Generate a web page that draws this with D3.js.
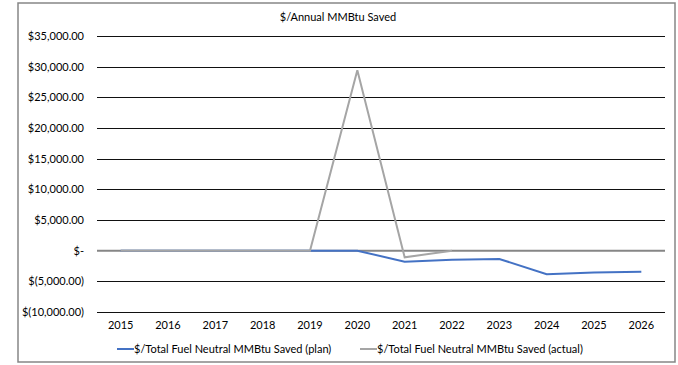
<!DOCTYPE html>
<html><head><meta charset="utf-8">
<script src="https://cdn.jsdelivr.net/npm/d3@7"></script>
<style>body{margin:0;background:#fff}svg{display:block}text{font-family:Lato,"Open Sans",sans-serif;fill:#000}</style>
</head><body><svg id="c" width="678" height="365"></svg>
<script>
const years = ["2015","2016","2017","2018","2019","2020","2021","2022","2023","2024","2025","2026"];
const planValues = [0,0,0,0,0,0,-1800,-1500,-1350,-3850,-3580,-3420];
const actualValues = [0,0,0,0,0,29400,-1080,0,null,null,null,null];
const yTicks = [35000,30000,25000,20000,15000,10000,5000,0,-5000,-10000];
const seriesNames = ["$/Total Fuel Neutral MMBtu Saved (plan)","$/Total Fuel Neutral MMBtu Saved (actual)"];
const title = "$/Annual MMBtu Saved";
const fs = 11;

const svg = d3.select("#c");
svg.append("rect").attr("x",18).attr("y",3).attr("width",657).attr("height",359)
  .attr("fill","#fff").attr("stroke","#868686").attr("stroke-width",1.5);

const x = d3.scaleBand().domain(years).range([97,665]);
const y = d3.scaleLinear().domain([-10000,35000]).range([312,36]);

svg.append("text").attr("x",338).attr("y",21).attr("text-anchor","middle").attr("font-size",fs).text(title);

svg.append("g").selectAll("line").data(yTicks.filter(d=>d!==0)).join("line")
  .attr("x1",97).attr("x2",665).attr("y1",d=>Math.round(y(d))+0.5).attr("y2",d=>Math.round(y(d))+0.5)
  .attr("stroke","#111").attr("stroke-width",1);

const fmt = d => d===0 ? "$-" : (d<0 ? "$(" + d3.format(",.2f")(-d) + ")" : "$" + d3.format(",.2f")(d));
const yAxis = d3.axisLeft(y).tickValues(yTicks).tickFormat(fmt).tickSize(0).tickPadding(0);
const ga = svg.append("g").attr("transform","translate(84,0)").call(yAxis);
ga.select(".domain").remove();
ga.selectAll("text").attr("font-size",fs).attr("font-family","Lato,sans-serif");

// zero axis line
svg.append("line").attr("x1",97).attr("x2",665).attr("y1",y(0)).attr("y2",y(0))
  .attr("stroke","#868686").attr("stroke-width",2);

const xAxis = d3.axisBottom(x).tickSize(0).tickPadding(0);
const gx = svg.append("g").attr("transform","translate(0,321)").call(xAxis);
gx.select(".domain").remove();
gx.selectAll("text").attr("font-size",fs).attr("font-family","Lato,sans-serif");

const line = d3.line().defined(d=>d.v!==null).x(d=>x(d.k)+x.bandwidth()/2).y(d=>y(d.v));
const planData = years.map((k,i)=>({k,v:planValues[i]}));
const actData = years.map((k,i)=>({k,v:actualValues[i]}));
svg.append("path").datum(planData).attr("d",line).attr("fill","none").attr("stroke","#4472C4").attr("stroke-width",2);
svg.append("path").datum(actData).attr("d",line).attr("fill","none").attr("stroke","#A5A5A5").attr("stroke-width",2);

const legend = [{n:seriesNames[0],c:"#4472C4",x:117},{n:seriesNames[1],c:"#A5A5A5",x:360}];
const lg = svg.append("g").selectAll("g").data(legend).join("g").attr("transform",d=>`translate(${d.x},349)`);
lg.append("line").attr("x1",0).attr("x2",17).attr("y1",0).attr("y2",0).attr("stroke",d=>d.c).attr("stroke-width",2);
lg.append("text").attr("x",17).attr("y",4).attr("font-size",fs).text(d=>d.n);
</script></body></html>
